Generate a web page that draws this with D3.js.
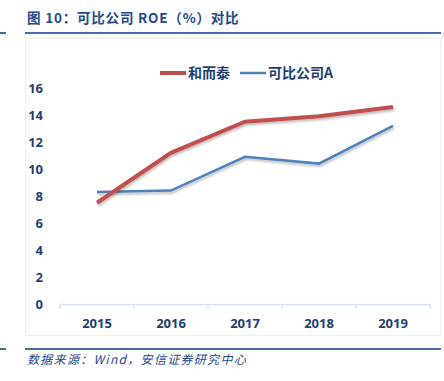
<!DOCTYPE html>
<html>
<head>
<meta charset="utf-8">
<script src="https://cdn.jsdelivr.net/npm/d3@7"></script>
<style>
  body { margin: 0; background: #fff; }
  svg { display: block; }
</style>
</head>
<body>
<svg id="chart" width="444" height="381"></svg>
<script>
// data
years = ["2015", "2016", "2017", "2018", "2019"];
heertai = [7.5, 11.2, 13.5, 13.9, 14.6];
compA = [8.3, 8.4, 10.9, 10.4, 13.2];
yTicks = [0, 2, 4, 6, 8, 10, 12, 14, 16];
seriesNames = ["和而泰", "可比公司A"];
seriesColors = ["#c0504d", "#4f81bd"];

svg = d3.select("#chart");
navy = "#1f3f73";
font = "'Noto Sans CJK SC', 'DejaVu Sans', sans-serif";

// shadow for the lines
defs = svg.append("defs");
f = defs.append("filter").attr("id", "shadow").attr("x", "-10%").attr("y", "-10%").attr("width", "120%").attr("height", "140%");
f.append("feDropShadow").attr("dx", 1).attr("dy", 2).attr("stdDeviation", 1.2).attr("flood-color", "#000").attr("flood-opacity", 0.25);

// title
svg.append("text")
    .attr("x", 27).attr("y", 23)
    .attr("font-family", font).attr("font-size", 13.5).attr("font-weight", "bold")
    .attr("letter-spacing", 0.8)
    .attr("fill", "#20498f")
    .text("图 10：可比公司 ROE（%）对比");

// rules under title and above source
[33, 349].forEach(function(y){
  svg.append("line").attr("x1", 25).attr("x2", 441).attr("y1", y).attr("y2", y)
    .attr("stroke", "#4a68ad").attr("stroke-width", 2);
  svg.append("line").attr("x1", 0).attr("x2", 6).attr("y1", y).attr("y2", y)
    .attr("stroke", "#4a68ad").attr("stroke-width", 2);
});

// faint chart frame
svg.append("rect").attr("x", 25.5).attr("y", 38.5).attr("width", 415).attr("height", 297)
    .attr("fill", "none").attr("stroke", "#f0f0f0");

x = d3.scaleBand().domain(years).range([60, 430]);
y = d3.scaleLinear().domain([0, 16]).range([304, 88]);

// y labels (no axis line)
svg.append("g").selectAll("text").data(yTicks).enter().append("text")
    .attr("x", 43).attr("y", function(d){ return y(d) + 5; })
    .attr("text-anchor", "end")
    .attr("font-family", "'Open Sans', 'DejaVu Sans', sans-serif").attr("font-size", 13).attr("font-weight", "bold")
    .attr("fill", navy)
    .text(function(d){ return d; });

// x axis
xAxis = svg.append("g").attr("transform", "translate(0,304)")
    .call(d3.axisBottom(x).tickSize(0).tickSizeOuter(0));
xAxis.select(".domain").attr("stroke", "#d6e0ef").attr("stroke-width", 1.5);
xAxis.selectAll("text")
    .attr("dy", 0).attr("y", 24)
    .attr("font-family", "'Open Sans', 'DejaVu Sans', sans-serif").attr("font-size", 13).attr("font-weight", "bold")
    .attr("fill", navy);
// boundary ticks between categories
bounds = years.map(function(d){ return x(d); }).concat([x(years[years.length - 1]) + x.bandwidth()]);
xAxis.selectAll(".bnd").data(bounds).enter().append("line")
    .attr("x1", function(d){ return d; }).attr("x2", function(d){ return d; })
    .attr("y1", 0).attr("y2", 5)
    .attr("stroke", "#d6e0ef").attr("stroke-width", 1.5);

line = d3.line()
    .x(function(d, i){ return x(years[i]) + x.bandwidth() / 2; })
    .y(function(d){ return y(d); });

svg.append("path")
    .attr("d", line(compA))
    .attr("fill", "none").attr("stroke", seriesColors[1]).attr("stroke-width", 2.5)
    .attr("filter", "url(#shadow)");
svg.append("path")
    .attr("d", line(heertai))
    .attr("fill", "none").attr("stroke", seriesColors[0]).attr("stroke-width", 4)
    .attr("filter", "url(#shadow)");

// legend
legendX = [160, 240];
seriesNames.forEach(function(name, i){
  svg.append("line")
      .attr("x1", legendX[i]).attr("x2", legendX[i] + 26).attr("y1", 73).attr("y2", 73)
      .attr("stroke", seriesColors[i]).attr("stroke-width", i == 0 ? 4 : 2.5);
  svg.append("text")
      .attr("x", legendX[i] + 28).attr("y", 78)
      .attr("font-family", font).attr("font-size", 14).attr("font-weight", "bold")
      .attr("fill", navy)
      .text(name);
});

// source
svg.append("text")
    .attr("x", 27).attr("y", 364)
    .attr("font-family", font).attr("font-size", 12).attr("font-style", "italic")
    .attr("letter-spacing", 1.3)
    .attr("fill", "#24488f")
    .text("数据来源：Wind，安信证券研究中心");
</script>
</body>
</html>
